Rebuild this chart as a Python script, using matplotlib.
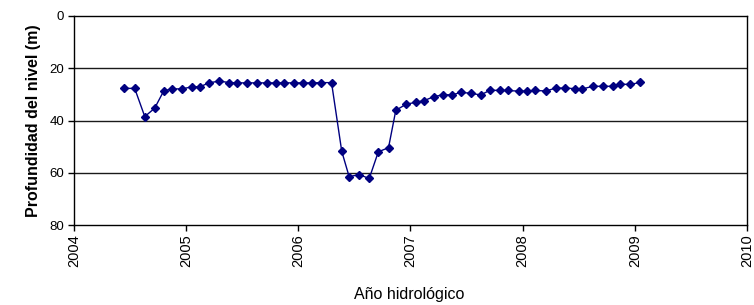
import numpy as np
import matplotlib.pyplot as plt

plt.rcParams['font.family'] = ['Liberation Sans', 'DejaVu Sans']

# fecha (año decimal) y profundidad del nivel (m)
fecha = [2004.450, 2004.541, 2004.631, 2004.719, 2004.801, 2004.878, 2004.965,
         2005.050, 2005.121, 2005.204, 2005.295, 2005.385, 2005.455, 2005.542,
         2005.631, 2005.718, 2005.798, 2005.875, 2005.959, 2006.044, 2006.122,
         2006.205, 2006.296, 2006.387, 2006.453, 2006.542, 2006.632, 2006.713,
         2006.804, 2006.869, 2006.960, 2007.049, 2007.120, 2007.207, 2007.293,
         2007.372, 2007.450, 2007.537, 2007.625, 2007.711, 2007.796, 2007.871,
         2007.966, 2008.043, 2008.114, 2008.206, 2008.295, 2008.377, 2008.468,
         2008.533, 2008.627, 2008.712, 2008.805, 2008.868, 2008.961, 2009.048]
profundidad = [27.7, 27.7, 38.5, 35.3, 28.6, 27.9, 27.9,
               27.1, 27.1, 25.6, 24.9, 25.5, 25.6, 25.6,
               25.6, 25.6, 25.6, 25.6, 25.6, 25.6, 25.6,
               25.5, 25.5, 51.8, 61.5, 60.7, 62.2, 52.0,
               50.4, 36.1, 33.8, 33.0, 32.4, 30.9, 30.1,
               30.2, 29.2, 29.6, 30.2, 28.4, 28.5, 28.5,
               28.8, 28.7, 28.5, 28.7, 27.6, 27.6, 27.8,
               27.9, 26.9, 26.9, 26.9, 26.1, 26.2, 25.4]

anios = [2004, 2005, 2006, 2007, 2008, 2009, 2010]
niveles = [0, 20, 40, 60, 80]

fig = plt.figure(figsize=(7.54, 3.05), dpi=100)
ax = fig.add_axes([74 / 754, 80 / 305, 673 / 754, 209 / 305])

for n in niveles[1:-1]:
    ax.axhline(n, color='#1a1a1a', lw=1.0, zorder=1)

ax.plot(fecha, profundidad, color='#000080', lw=1.0, marker='D',
        markersize=4.5, zorder=3)

ax.set_xlim(2004, 2010)
ax.set_ylim(80, 0)
ax.set_xticks(anios)
ax.set_xticklabels([str(a) for a in anios], rotation=90, fontsize=10.5)
ax.set_yticks(niveles)
ax.set_yticklabels([str(n) for n in niveles], fontsize=9.5)
ax.tick_params(direction='out', length=4, width=1, color='black', pad=3)

for s in ax.spines.values():
    s.set_color('black')
    s.set_linewidth(1.0)

ax.set_ylabel('Profundidad del nivel (m)', fontsize=11.5, fontweight='bold', labelpad=6)
fig.text(409 / 754, 1 - 295 / 305, 'Año hidrológico', fontsize=11.5,
         ha='center', va='center')

fig.savefig('out.png', dpi=100)
